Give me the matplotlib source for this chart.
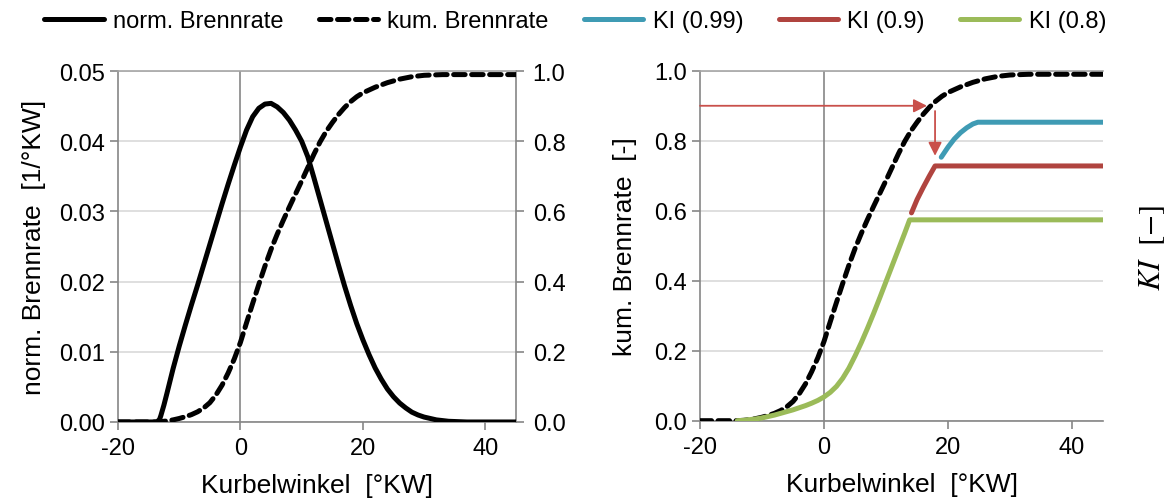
import numpy as np
import matplotlib
matplotlib.use("Agg")
import matplotlib.pyplot as plt

plt.rcParams['font.family'] = ['Liberation Sans', 'DejaVu Sans']
plt.rcParams['mathtext.fontset'] = 'stix'
plt.rcParams['axes.unicode_minus'] = False

# Kurbelwinkel / norm. Brennrate (left axis)
x_rate = [-20, -16, -13.6, -13.2, -13, -12.5, -12, -11, -10, -9, -8, -7, -6, -5, -4, -3, -2, -1,
          0, 1, 2, 3, 4, 5, 6, 7, 8, 9, 10, 11, 12, 13, 14, 15, 16, 17, 18, 19, 20, 21, 22, 23,
          24, 25, 26, 27, 28, 29, 30, 32, 34, 37, 45]
rate = [0, 0, 0, 0.0004, 0.0009, 0.0024, 0.0041, 0.0076, 0.0108, 0.0138, 0.0167, 0.0195, 0.0224,
        0.0253, 0.0282, 0.0311, 0.0339, 0.0366, 0.0392, 0.0416, 0.0435, 0.0447, 0.0453, 0.0454,
        0.0449, 0.0441, 0.0430, 0.0416, 0.0400, 0.0378, 0.0348, 0.0317, 0.0286, 0.0255, 0.0224,
        0.0194, 0.0166, 0.0140, 0.0117, 0.0096, 0.0077, 0.0061, 0.0047, 0.0036, 0.0027, 0.0020,
        0.0014, 0.0010, 0.0007, 0.0003, 0.0001, 0, 0]

# kumulierte Brennrate
x_cum = [-20, -16, -14, -13, -12, -11, -10, -9, -8, -7, -6, -5, -4, -3, -2, -1, 0, 1, 2, 3, 4, 5,
         6, 7, 8, 9, 10, 11, 12, 13, 14, 15, 16, 17, 18, 19, 20, 22, 24, 26, 28, 30, 33, 36, 40, 45]
cum = [0, 0, 0, 0.001, 0.003, 0.006, 0.01, 0.015, 0.021, 0.029, 0.04, 0.055, 0.077, 0.105, 0.14,
       0.18, 0.227, 0.283, 0.338, 0.392, 0.444, 0.492, 0.535, 0.575, 0.613, 0.65, 0.687, 0.725,
       0.763, 0.798, 0.828, 0.853, 0.876, 0.896, 0.913, 0.927, 0.938, 0.954, 0.967, 0.977, 0.984,
       0.988, 0.99, 0.99, 0.99, 0.99]

# KI Kurven
x_ki99 = [18.9, 20, 21, 22, 23, 24, 24.8, 45]
ki99 = [0.753, 0.782, 0.805, 0.823, 0.837, 0.848, 0.853, 0.853]
x_ki90 = [14.1, 15, 16, 17, 17.9, 45]
ki90 = [0.594, 0.632, 0.667, 0.70, 0.728, 0.728]
x_ki80 = [-14, -13, -12, -11, -10, -9, -8, -7, -6, -5, -4, -3, -2, -1, 0, 1, 2, 3, 4, 5, 6, 7,
          8, 9, 10, 11, 12, 13, 13.8, 45]
ki80 = [0, 0.001, 0.003, 0.005, 0.008, 0.012, 0.016, 0.021, 0.026, 0.031, 0.037, 0.043, 0.05,
        0.058, 0.068, 0.081, 0.098, 0.121, 0.15, 0.185, 0.223, 0.264, 0.307, 0.352, 0.398,
        0.444, 0.49, 0.536, 0.574, 0.574]

ki_level = 0.9
x_arrow = 17.9

c_blue = '#3f9bb4'
c_red = '#b0443f'
c_green = '#9bbb59'
c_arrow = '#c9504b'
c_axis = '#868686'
c_grid = '#d9d9d9'

lw = 3.6
dash = (2.3, 1.3)
tick_fs = 17
label_fs = 19

fig = plt.figure(figsize=(11.74, 5.02), dpi=100)
ax1 = fig.add_axes([0.1005, 0.1574, 0.339, 0.699])
ax2 = fig.add_axes([0.5963, 0.1600, 0.3433, 0.697])


def style(ax):
    ax.set_xlim(-20, 45)
    ax.set_xticks([-20, 0, 20, 40])
    for s in ['left', 'bottom', 'right', 'top']:
        ax.spines[s].set_color(c_axis)
        ax.spines[s].set_linewidth(1.2)
    ax.spines['top'].set_color('#a6a6a6')
    ax.tick_params(axis='both', colors=c_axis, labelcolor='black', labelsize=tick_fs,
                   direction='out', length=6, width=1.2)
    ax.tick_params(axis='x', pad=5)
    ax.grid(axis='y', color=c_grid, linewidth=1.2)
    ax.set_axisbelow(True)
    ax.axvline(0, color=c_axis, lw=1.2, zorder=1)
    ax.set_xlabel('Kurbelwinkel  [°KW]', fontsize=label_fs, labelpad=10)


# left
style(ax1)
ax1.set_ylim(0, 0.05)
ax1.set_yticks([0, 0.01, 0.02, 0.03, 0.04, 0.05])
ax1.set_yticklabels(['0.00', '0.01', '0.02', '0.03', '0.04', '0.05'])
ax1.set_ylabel('norm. Brennrate  [1/°KW]', fontsize=label_fs, labelpad=9)
l1, = ax1.plot(x_rate, rate, color='black', lw=lw, solid_capstyle='round',
               solid_joinstyle='round', label='norm. Brennrate', zorder=3)
ax1b = ax1.twinx()
ax1b.set_ylim(0, 1.0)
ax1b.set_yticks([0, 0.2, 0.4, 0.6, 0.8, 1.0])
ax1b.set_yticklabels(['0.0', '0.2', '0.4', '0.6', '0.8', '1.0'])
for s in ['left', 'bottom', 'right', 'top']:
    ax1b.spines[s].set_visible(False)
ax1b.tick_params(axis='y', colors=c_axis, labelcolor='black', labelsize=tick_fs,
                 direction='out', length=6, width=1.2, pad=6)
l2, = ax1b.plot(x_cum, cum, color='black', lw=lw, ls=(0, dash),
                dash_capstyle='round', label='kum. Brennrate', zorder=3)

# right
style(ax2)
ax2.spines['right'].set_visible(False)
ax2.set_ylim(0, 1.0)
ax2.set_yticks([0, 0.2, 0.4, 0.6, 0.8, 1.0])
ax2.set_yticklabels(['0.0', '0.2', '0.4', '0.6', '0.8', '1.0'])
ax2.set_ylabel('kum. Brennrate  [-]', fontsize=label_fs, labelpad=12)
ax2.plot(x_cum, cum, color='black', lw=lw, ls=(0, dash), dash_capstyle='round', zorder=3)
l3, = ax2.plot(x_ki99, ki99, color=c_blue, lw=lw, solid_capstyle='round',
               solid_joinstyle='round', label='KI (0.99)', zorder=4)
l4, = ax2.plot(x_ki90, ki90, color=c_red, lw=lw, solid_capstyle='round',
               solid_joinstyle='round', label='KI (0.9)', zorder=4)
l5, = ax2.plot(x_ki80, ki80, color=c_green, lw=lw, solid_capstyle='round',
               solid_joinstyle='round', label='KI (0.8)', zorder=4)

# arrows
ax2.annotate('', xy=(16.6, ki_level), xytext=(-20, ki_level),
             arrowprops=dict(arrowstyle='-|>', color=c_arrow, lw=1.3,
                             mutation_scale=20, shrinkA=0, shrinkB=0), zorder=5)
ax2.annotate('', xy=(x_arrow, 0.757), xytext=(x_arrow, 0.885),
             arrowprops=dict(arrowstyle='-|>', color=c_arrow, lw=1.3,
                             mutation_scale=20, shrinkA=0, shrinkB=0), zorder=5)

fig.text(0.981, 0.505, r'$KI\ \ [-]$', rotation=90, fontsize=22,
         ha='center', va='center')

fig.legend(handles=[l1, l2, l3, l4, l5], loc='upper center', bbox_to_anchor=(0.49, 1.02),
           ncol=5, frameon=False, fontsize=17, handlelength=2.5, handletextpad=0.4,
           columnspacing=1.5)

fig.savefig('out.png', dpi=100)
